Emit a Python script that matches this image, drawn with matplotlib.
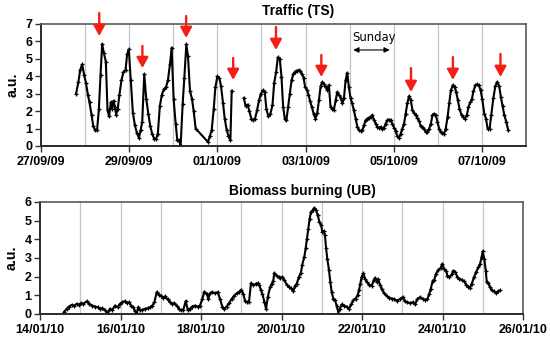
import numpy as np
import pandas as pd
import matplotlib
matplotlib.use('Agg')
import matplotlib.pyplot as plt
import matplotlib.dates as mdates

# ---------------- data ----------------
ts_start = pd.Timestamp('2009-09-27')
ts_days = 11
# hours since 27/09/09 00:00 (NaN marks the data gap)
ts_hours = [19.1, 20.4, 21.3, 22.4, 23.5, 24.5, 25.5, 26.4, 27.5, 28.5, 29.5, 30.5, 31.5, 32.4, 33.3,
            34.2, 35.3, 36.2, 37.1, 38.0, 38.7, 39.5, 40.2, 40.9, 41.8, 42.7, 43.8, 44.9, 46.0, 46.9,
            47.8, 48.9, 50.0, 51.1, 52.2, 53.3, 54.2, 55.1, 56.2, 57.3, 58.4, 59.5, 60.5, 61.6, 62.7,
            63.6, 64.7, 65.8, 66.9, 68.0, 69.1, 70.2, 71.1, 72.2, 73.3, 74.2, 75.1, 76.0, 77.1, 78.0,
            79.1, 80.0, 81.1, 82.2, 83.1, 84.2, 90.9, 92.0, 92.9, 94.0, 94.9, 96.0, 97.1, 98.0, 99.1,
            100.0, 101.1, 102.0, 103.1, 103.8, 107.0,
            110.4, 111.4, 112.5, 113.4, 114.5, 115.4, 116.5, 117.6, 118.7, 119.6, 120.7, 121.8, 122.7,
            123.8, 124.9, 126.0, 126.9, 128.0, 128.9, 130.0,
            130.9, 131.8, 132.7, 133.6, 134.5, 135.4, 136.4, 137.3, 138.2, 139.1, 140.2, 141.1, 142.0,
            142.9, 143.8, 144.7, 145.6, 146.5, 147.4, 148.4, 149.4, 150.4, 151.3, 152.2, 153.1, 154.0,
            154.9, 155.8, 156.7, 157.6, 158.5, 159.4, 160.4, 161.3, 162.2, 163.1, 164.0, 164.9, 165.8,
            166.7, 167.6, 168.5, 169.4, 170.3, 171.3, 172.2, 173.1, 174.0, 174.9, 175.8, 176.7, 177.6,
            178.5, 179.4, 180.3, 181.3, 182.2, 183.1, 184.0, 184.9, 185.8, 186.7, 187.6, 188.5, 189.4,
            190.3, 191.3, 192.2, 193.1, 194.0, 194.9, 195.8, 196.7, 197.6, 198.5, 199.4, 200.3, 201.3,
            202.2, 203.1, 204.0, 204.9, 205.8, 206.7, 207.6, 208.5, 209.4, 210.3, 211.3, 212.2, 213.1,
            214.0, 214.9, 215.8, 216.7, 217.6, 218.5, 219.4, 220.3, 221.3, 222.2, 223.1, 224.2, 225.1,
            226.0, 226.9, 227.8, 228.9, 229.8, 230.7, 231.8, 232.7, 233.6, 234.5, 235.4, 236.5, 237.4,
            238.3, 239.3, 240.2, 241.3, 242.2, 243.1, 244.2, 245.1, 246.2, 247.3, 248.3, 249.4, 250.3,
            251.3, 252.2, 253.3, 254.3]
ts_values = [3.0, 3.7, 4.35, 4.68, 4.07, 3.6, 2.95, 2.5, 1.8, 1.13, 0.9, 0.9, 2.1, 4.07, 5.85,
             5.35, 4.83, 2.05, 1.7, 2.5, 2.15, 2.6, 2.25, 1.8, 2.15, 2.95, 3.78, 4.25, 4.35, 5.27,
             5.55, 3.78, 1.92, 1.19, 0.75, 0.46, 0.9, 1.38, 4.12, 2.7, 1.86, 1.13, 0.71, 0.42, 0.42,
             0.71, 2.3, 2.95, 3.26, 3.36, 3.78, 4.7, 5.64, 2.67, 1.28, 0.33, 0.33, 0.0, 2.4, 3.88,
             5.83, 5.16, 3.15, 2.7, 2.0, 1.0, 0.23, 0.6, 0.9, 2.1, 3.36, 4.0, 3.88, 3.43, 2.44,
             1.57, 0.9, 0.6, 0.33, 3.17, np.nan,
             2.76, 2.28, 2.38, 2.0, 1.57, 1.48, 1.57, 2.05, 2.63, 2.97, 3.2, 3.1, 2.1,
             1.7, 1.86, 2.34, 3.6, 4.26, 5.08, 4.97,
             3.97, 2.24, 1.57, 1.5, 2.24, 3.0, 3.78, 4.12, 4.26, 4.32, 4.35, 4.28, 4.12,
             3.93, 3.36, 3.24, 2.95, 2.57, 2.24, 1.86, 1.57, 1.9, 2.63, 3.43, 3.66, 3.55,
             3.36, 3.24, 3.49, 2.24, 2.15, 2.05, 2.63, 3.1, 2.92, 2.78, 2.44, 2.73, 3.78,
             4.2, 3.36, 2.73, 2.44, 2.05, 1.57, 1.1, 0.9, 0.86, 0.9, 1.2, 1.48, 1.57,
             1.63, 1.67, 1.77, 1.48, 1.28, 1.1, 1.05, 1.1, 1.0, 1.05, 1.28, 1.48, 1.52,
             1.48, 1.28, 1.05, 0.84, 0.56, 0.48, 0.71, 1.0, 1.28, 1.86, 2.44, 2.86, 2.63,
             2.05, 1.9, 1.77, 1.63, 1.44, 1.13, 1.1, 1.0, 0.8, 0.8, 1.0, 1.28, 1.77,
             1.86, 1.77, 1.38, 1.0, 0.8, 0.75, 0.71, 1.0, 1.67, 2.44, 3.2, 3.49, 3.4,
             3.1, 2.63, 2.15, 1.77, 1.67, 1.57, 1.77, 2.24, 2.5, 2.67, 3.16, 3.49, 3.53,
             3.49, 3.2, 2.67, 1.86, 1.57, 1.0, 1.0, 1.77, 2.73, 3.43, 3.68, 3.43, 2.82,
             2.28, 1.77, 1.38, 0.9]

ub_start = pd.Timestamp('2010-01-14')
ub_days = 12
# hours since 14/01/10 00:00
ub_hours = [14.5, 15.9, 17.3, 18.9, 20.5, 21.9, 23.3, 24.4, 25.8, 27.8, 29.4, 31.2, 32.8, 34.4, 35.8,
            37.2, 38.8, 40.4, 41.7, 43.1, 44.7, 46.3, 47.7, 49.1, 50.7, 51.7, 53.1, 54.3, 55.6, 56.6,
            57.6, 58.6, 59.6, 61.0, 62.6, 64.2, 65.6, 67.0, 68.2, 69.6, 71.0, 72.2, 73.5, 74.5, 76.1,
            77.5, 78.9, 80.1, 81.5, 82.9, 84.1, 85.5, 86.9, 88.1, 89.4, 90.8, 92.4, 94.0, 95.4, 96.8,
            98.0, 99.4, 100.4, 101.4, 102.7, 104.4, 106.0, 107.3, 108.7, 109.9, 111.3, 112.7, 114.3,
            115.9, 117.3, 118.7, 119.9, 121.2, 122.2, 123.3, 124.6, 125.8, 127.2, 128.6, 129.8, 130.8,
            131.8, 132.6, 133.8, 134.8, 135.8, 137.2, 138.2, 139.1, 139.7, 141.1, 142.5, 143.1, 144.5,
            145.7, 147.1, 148.5, 149.7, 151.0, 152.1, 153.1, 154.4, 155.6, 156.4, 157.6, 158.4, 159.2,
            160.0, 160.8, 161.6, 162.6, 163.6, 164.6, 165.6, 166.6, 167.6, 168.3, 169.2, 169.9, 170.6,
            171.3, 172.3, 173.1, 173.9, 174.9, 175.9, 176.9, 177.9, 178.9, 179.9, 181.5, 182.9, 184.3,
            185.5, 186.8, 188.2, 189.4, 190.2, 191.0, 191.8, 192.8, 193.8, 194.8, 196.2, 197.8, 199.0,
            199.8, 200.8, 201.7, 202.7, 203.7, 205.3, 206.7, 208.1, 209.7, 211.3, 213.1, 214.7, 216.3,
            217.6, 219.0, 220.6, 222.2, 223.6, 225.0, 226.6, 228.2, 229.6, 231.0, 232.1, 233.0, 234.2,
            235.1, 236.1, 237.5, 238.9, 239.9, 240.9, 242.1, 242.9, 244.1, 245.5, 246.5, 247.7, 248.9,
            250.1, 251.5, 252.9, 254.1, 255.4, 256.4, 257.4, 258.8, 260.0, 261.4, 262.4, 263.4, 264.0,
            264.9, 265.8, 266.4, 267.3, 268.3, 269.3, 270.7, 271.9, 273.2, 274.2]
ub_values = [0.13, 0.28, 0.40, 0.49, 0.45, 0.55, 0.49, 0.58, 0.55, 0.67, 0.55, 0.45, 0.40, 0.36, 0.28,
             0.31, 0.19, 0.04, 0.28, 0.22, 0.45, 0.36, 0.55, 0.63, 0.69, 0.58, 0.63, 0.45, 0.36, 0.15,
             0.04, 0.36, 0.19, 0.22, 0.28, 0.31, 0.36, 0.45, 0.63, 1.17, 1.04, 0.99, 0.87, 0.94, 0.78,
             0.63, 0.55, 0.58, 0.45, 0.28, 0.19, 0.24, 0.69, 0.22, 0.28, 0.40, 0.45, 0.40, 0.45, 0.81,
             1.20, 1.08, 0.81, 1.11, 1.17, 1.11, 1.17, 0.81, 0.40, 0.28, 0.40, 0.58, 0.81,
             0.99, 1.11, 1.17, 1.30, 1.08, 0.72, 0.63, 0.63, 1.65, 1.53, 1.62, 1.65, 1.53,
             1.26, 1.08, 0.63, 0.28, 0.90, 1.44, 1.62, 1.79, 2.19, 2.06, 1.97, 1.94, 1.99,
             1.81, 1.58, 1.46, 1.37, 1.22, 1.51, 1.63, 1.99, 2.22, 2.65, 3.06, 3.51, 4.04,
             4.58, 5.11, 5.47, 5.56, 5.69, 5.56, 5.29, 4.94, 4.79, 4.40, 4.44, 4.22, 3.51,
             2.97, 2.35, 1.72, 1.19, 0.83, 0.74, 0.44, 0.08, 0.29, 0.51, 0.44, 0.39, 0.29,
             0.51, 0.74, 0.83, 1.01, 1.27, 1.63, 1.99, 2.17, 1.90, 1.72, 1.58, 1.51, 1.81,
             1.94, 1.72, 1.86, 1.58, 1.33, 1.10, 0.97, 0.87, 0.83, 0.79, 0.72, 0.81, 0.90,
             0.67, 0.63, 0.58, 0.63, 0.51, 0.81, 0.90, 0.81, 0.76, 0.81, 1.08, 1.35, 1.79,
             1.83, 2.15, 2.37, 2.47, 2.69, 2.42, 2.33, 2.06, 1.97, 2.12, 2.33, 2.24, 1.97,
             1.89, 1.83, 1.76, 1.58, 1.47, 1.40, 1.62, 1.97, 2.24, 2.51, 2.69, 3.08, 3.36,
             2.96, 2.33, 1.70, 1.65, 1.44, 1.26, 1.22, 1.11, 1.22, 1.26]

# red arrows marking traffic peaks: hour, tip value, tail value
peak_hours = [31.7, 55.2, 79.0, 104.6, 127.9, 152.6, 201.4, 224.2, 250.1]
peak_tip = [6.31, 4.47, 6.2, 3.79, 5.51, 3.96, 3.1, 3.79, 3.96]
peak_tail = [7.63, 5.74, 7.46, 5.05, 6.83, 5.22, 4.47, 5.1, 5.28]

sunday_hours = [170.0, 189.8]
sunday_label = 'Sunday'
ts_title = 'Traffic (TS)'
ub_title = 'Biomass burning (UB)'
ylabel = 'a.u.'

# ---------------- figure ----------------
FONT = 'Liberation Sans'
W, H = 550, 338
fig = plt.figure(figsize=(W / 100, H / 100), dpi=100)
ax1 = fig.add_axes([41 / W, 1 - 146 / H, 485 / W, 122 / H])
ax2 = fig.add_axes([40 / W, 1 - 314 / H, 483 / W, 112 / H])


def to_times(start, hours):
    return [start + pd.Timedelta(hours=h) for h in hours]


def style(ax, start, ndays, ymax, label_last):
    ax.set_xlim(start, start + pd.Timedelta(days=ndays))
    ax.set_ylim(0, ymax)
    ax.set_yticks(range(ymax + 1))
    last = ndays if label_last else ndays - 1
    ticks = [start + pd.Timedelta(days=d) for d in range(0, last + 1, 2)]
    ax.set_xticks(mdates.date2num(ticks))
    ax.xaxis.set_major_formatter(mdates.DateFormatter('%d/%m/%y'))
    for d in range(1, ndays):
        ax.axvline(start + pd.Timedelta(days=d), color='#c4c4c4', lw=0.9, zorder=0)
    for s in ax.spines.values():
        s.set_color('#5a5a5a')
        s.set_linewidth(1.2)
    for s in ('left', 'bottom'):
        ax.spines[s].set_color('#2a2a2a')
        ax.spines[s].set_linewidth(1.4)
    ax.tick_params(axis='both', direction='out', length=4, width=1.0, color='#333333', pad=2)
    ax.tick_params(axis='x', pad=3)
    for lab in ax.get_xticklabels() + ax.get_yticklabels():
        lab.set_fontfamily(FONT)
        lab.set_fontweight('bold')
        lab.set_fontsize(9)
    ax.set_ylabel(ylabel, fontfamily=FONT, fontweight='bold', fontsize=10.2, labelpad=4)


ax1.plot(to_times(ts_start, ts_hours), ts_values, color='black', lw=1.5,
         marker='+', ms=3.5, mew=0.9)
style(ax1, ts_start, ts_days, 7, False)

ax2.plot(to_times(ub_start, ub_hours), ub_values, color='black', lw=1.5,
         marker='+', ms=3.5, mew=0.9)
style(ax2, ub_start, ub_days, 6, True)

# red arrows
for h, tip, tail in zip(peak_hours, peak_tip, peak_tail):
    t = mdates.date2num(ts_start + pd.Timedelta(hours=h))
    ax1.annotate('', xy=(t, tip), xytext=(t, tail), annotation_clip=False,
                 arrowprops=dict(arrowstyle='-|>,head_length=0.6,head_width=0.33',
                                 color='#f41f14', lw=1.7, mutation_scale=10.5,
                                 shrinkA=0, shrinkB=0))

# Sunday span
t0 = mdates.date2num(ts_start + pd.Timedelta(hours=sunday_hours[0]))
t1 = mdates.date2num(ts_start + pd.Timedelta(hours=sunday_hours[1]))
ax1.annotate('', xy=(t1, 5.51), xytext=(t0, 5.51),
             arrowprops=dict(arrowstyle='<|-|>,head_length=0.4,head_width=0.2',
                             color='black', lw=0.8, mutation_scale=8, shrinkA=0, shrinkB=0))
ax1.text((t0 + t1) / 2 + 0.05, 6.2, sunday_label, ha='center', va='center',
         fontfamily='DejaVu Sans', fontsize=8.4)

fig.text(298 / W, 1 - 10.5 / H, ts_title, ha='center', va='center',
         fontfamily=FONT, fontweight='bold', fontsize=10)
fig.text(302.5 / W, 1 - 190.5 / H, ub_title, ha='center', va='center',
         fontfamily=FONT, fontweight='bold', fontsize=10)

fig.savefig('out.png', dpi=100)
